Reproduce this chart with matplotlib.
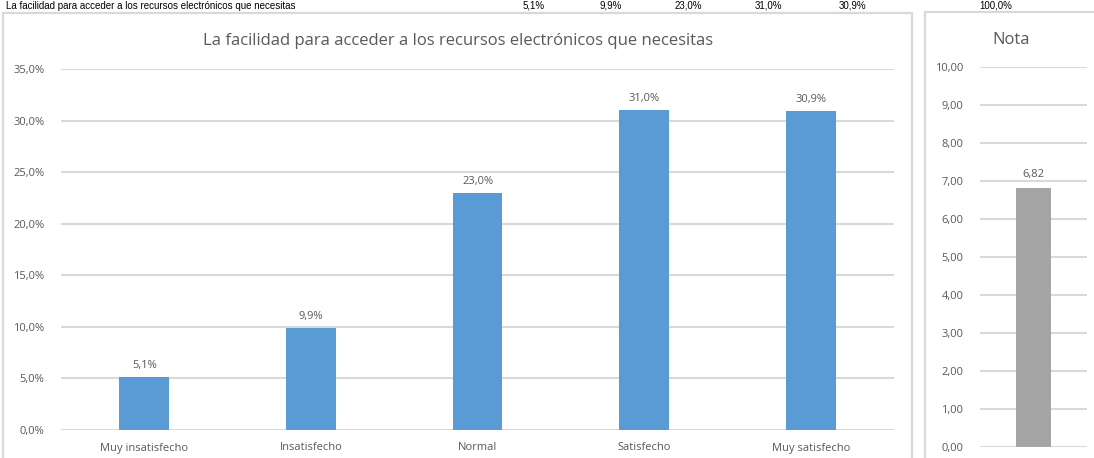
import matplotlib.pyplot as plt
from matplotlib.patches import Rectangle
import numpy as np

# data
categories = ['Muy insatisfecho', 'Insatisfecho', 'Normal', 'Satisfecho', 'Muy satisfecho']
percent = [5.1, 9.9, 23.0, 31.0, 30.9]
total_label = '100,0%'
nota = 6.82
title = 'La facilidad para acceder a los recursos electrónicos que necesitas'

W, H = 1094, 458
plt.rcParams['font.family'] = ['Open Sans', 'DejaVu Sans']
txt = '#595959'
grid = '#d9d9d9'

fig = plt.figure(figsize=(W / 100, H / 100), dpi=100)


def fx(px):
    return px / W


def fy(py):
    return 1 - py / H


# panel frames
fig.patches.append(Rectangle((fx(3), fy(470)), fx(909), 457 / H, transform=fig.transFigure,
                             fill=False, ec=grid, lw=1.6))
fig.patches.append(Rectangle((fx(925), fy(470)), fx(180), 458 / H, transform=fig.transFigure,
                             fill=False, ec=grid, lw=1.6))

# table row at the top (partly hidden in the source)
fig.text(fx(6), fy(6), title, fontsize=7, family=['Liberation Sans'], va='center', color='black')
row_x = [545, 622, 702, 782, 866, 1012]
row_vals = ['%.1f%%' % v for v in percent] + [total_label]
for x, s in zip(row_x, row_vals):
    fig.text(fx(x), fy(6), s.replace('.', ','), fontsize=7, family=['Liberation Sans'],
             va='center', ha='right', color='black')

# main chart
ax = fig.add_axes([fx(61), 28 / H, fx(833), 361 / H])
x = np.arange(len(categories))
vals = np.array(percent) / 100
ax.bar(x, vals, width=0.3, color='#5b9bd5', zorder=3)
ax.set_xlim(-0.5, len(categories) - 0.5)
ax.set_ylim(0, 0.35)
yt = np.arange(0, 0.351, 0.05)
ax.set_yticks(yt)
ax.set_yticklabels([('%.1f%%' % (v * 100)).replace('.', ',') for v in yt])
ax.set_xticks(x)
ax.set_xticklabels(categories)
ax.tick_params(length=0, labelsize=8, colors=txt)
ax.tick_params(axis='y', pad=12)
ax.tick_params(axis='x', pad=9)
ax.grid(axis='y', color=grid, lw=1.5, zorder=0)
for s in ax.spines.values():
    s.set_visible(False)
for xi, v in zip(x, percent):
    ax.text(xi, v / 100 + 0.006, ('%.1f%%' % v).replace('.', ','), ha='center', va='bottom',
            fontsize=8, color=txt)
fig.text(fx(458), fy(41), title, ha='center', va='center', fontsize=12, color=txt)

# nota chart
ax2 = fig.add_axes([fx(980), 11 / H, fx(107), 380 / H])
ax2.bar([0], [nota], width=0.33, color='#a5a5a5', zorder=3)
ax2.set_xlim(-0.5, 0.5)
ax2.set_ylim(0, 10)
ax2.set_yticks(np.arange(0, 11, 1))
ax2.set_yticklabels([('%.2f' % v).replace('.', ',') for v in np.arange(0, 11, 1)])
ax2.set_xticks([])
ax2.tick_params(length=0, labelsize=8, colors=txt, pad=12)
ax2.grid(axis='y', color=grid, lw=1.5, zorder=0)
for s in ax2.spines.values():
    s.set_visible(False)
ax2.text(0, nota + 0.2, ('%.2f' % nota).replace('.', ','), ha='center', va='bottom',
         fontsize=8, color=txt)
fig.text(fx(1011), fy(40), 'Nota', ha='center', va='center', fontsize=12, color=txt)

fig.savefig('out.png', dpi=100)
